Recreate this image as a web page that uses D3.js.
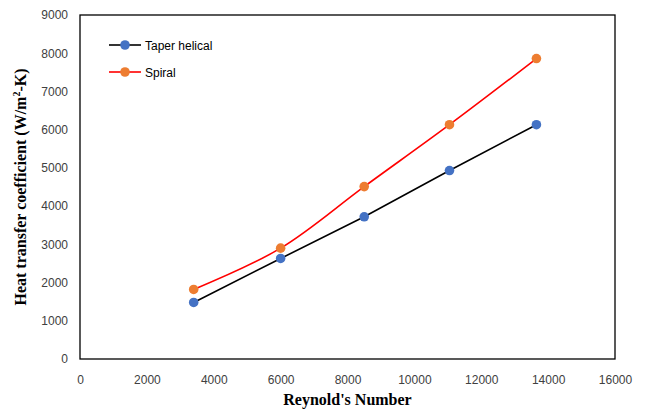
<!DOCTYPE html>
<html><head><meta charset="utf-8">
<script src="https://cdn.jsdelivr.net/npm/d3@7"></script>
<style>body{margin:0;background:#fff}</style>
</head><body>
<svg id="c" width="653" height="412"></svg>
<script>
const reynolds = [3400, 6000, 8500, 11050, 13650];
const taperHelical = [1480, 2630, 3720, 4930, 6130];
const spiral = [1820, 2900, 4510, 6130, 7860];
const xTicks = [0,2000,4000,6000,8000,10000,12000,14000,16000];
const yTicks = [0,1000,2000,3000,4000,5000,6000,7000,8000,9000];
const seriesNames = ["Taper helical", "Spiral"];

const svg = d3.select("#c");
const m = {l:80, r:615, t:15, b:359};
const x = d3.scaleLinear().domain([0,16000]).range([m.l, m.r]);
const y = d3.scaleLinear().domain([0,9000]).range([m.b, m.t]);

svg.append("rect").attr("x", m.l).attr("y", m.t).attr("width", m.r-m.l).attr("height", m.b-m.t)
  .attr("fill","none").attr("stroke","#000").attr("stroke-width",1.3);

const tickFont = "Liberation Sans, Arial, sans-serif";
const xa = svg.append("g").attr("transform",`translate(0,${m.b})`)
  .call(d3.axisBottom(x).tickValues(xTicks).tickSize(0).tickPadding(16).tickFormat(d3.format("d")));
xa.select(".domain").remove();
xa.selectAll("text").attr("font-family",tickFont).attr("font-size",12).attr("fill","#404040");

const ya = svg.append("g").attr("transform",`translate(${m.l},0)`)
  .call(d3.axisLeft(y).tickValues(yTicks).tickSize(0).tickPadding(12).tickFormat(d3.format("d")));
ya.select(".domain").remove();
ya.selectAll("text").attr("font-family",tickFont).attr("font-size",12).attr("fill","#404040");

svg.append("text").attr("x",(m.l+m.r)/2).attr("y",405).attr("text-anchor","middle")
  .attr("font-family","Liberation Serif, Times New Roman, serif").attr("font-weight","bold").attr("font-size",16)
  .text("Reynold's Number");

const yt = svg.append("text").attr("transform",`translate(26,${(m.t+m.b)/2}) rotate(-90)`).attr("text-anchor","middle")
  .attr("font-family","Liberation Serif, Times New Roman, serif").attr("font-weight","bold").attr("font-size",16);
yt.append("tspan").text("Heat transfer coefficient (W/m");
yt.append("tspan").attr("font-size",10).attr("dy",-6).text("2");
yt.append("tspan").attr("dy",6).text("-K)");

const data = [
  {name: seriesNames[0], vals: taperHelical, line:"#000000", fill:"#4472C4", curve:d3.curveLinear},
  {name: seriesNames[1], vals: spiral, line:"#FF0000", fill:"#ED7D31", curve:d3.curveCatmullRom}
];
data.forEach(s=>{
  const pts = reynolds.map((r,i)=>[r, s.vals[i]]);
  svg.append("path").attr("d", d3.line().x(d=>x(d[0])).y(d=>y(d[1])).curve(s.curve)(pts))
    .attr("fill","none").attr("stroke",s.line).attr("stroke-width",1.6);
  svg.selectAll(null).data(pts).enter().append("circle")
    .attr("cx",d=>x(d[0])).attr("cy",d=>y(d[1])).attr("r",4.8).attr("fill",s.fill);
});

data.forEach((s,i)=>{
  const ly = 45 + i*27;
  svg.append("line").attr("x1",109).attr("x2",141).attr("y1",ly).attr("y2",ly).attr("stroke",s.line).attr("stroke-width",1.6);
  svg.append("circle").attr("cx",125).attr("cy",ly).attr("r",4.8).attr("fill",s.fill);
  svg.append("text").attr("x",145).attr("y",ly+4.5).attr("font-family",tickFont).attr("font-size",12).attr("fill","#000").text(s.name);
});
</script>
</body></html>
